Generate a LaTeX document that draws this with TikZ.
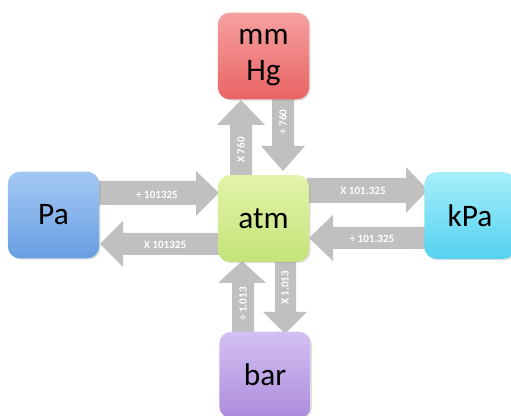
\documentclass[tikz,border=0pt]{standalone}
\usepackage{fontspec}
\setmainfont{Carlito}
\usetikzlibrary{shadows}
\definecolor{arrowgray}{HTML}{C0C0C0}
\tikzset{
  unitbox/.style={rounded corners=9pt, minimum width=68.5pt, minimum height=65pt, inner sep=0pt,
    font=\fontsize{23.5}{25}\selectfont, text=black, draw=none,
    drop shadow={shadow xshift=1pt, shadow yshift=-1pt, opacity=0.25}},
  blockarrow/.style={fill=arrowgray, draw=none},
  arrowtext/.style={text=white, font=\bfseries\fontsize{8.3}{9}\selectfont, inner sep=0pt},
}
\begin{document}
\begin{tikzpicture}[x=0.75pt, y=-0.75pt]
\useasboundingbox (0,0) rectangle (511,416);

% block arrows (drawn first, boxes on top)
% atm -> mmHg (up, left)
\fill[blockarrow] (230,178) -- (230,125) -- (217,125) -- (241,100) -- (265,125) -- (252,125) -- (252,178) -- cycle;
% mmHg -> atm (down, right)
\fill[blockarrow] (272,98) -- (272,146) -- (261,146) -- (283,171) -- (305,146) -- (294,146) -- (294,98) -- cycle;
% Pa -> atm (upper)
\fill[blockarrow] (98,181) -- (196,181) -- (196,171) -- (219,193) -- (196,216) -- (196,205) -- (98,205) -- cycle;
% atm -> Pa (lower)
\fill[blockarrow] (220,233) -- (123,233) -- (123,221) -- (100,244) -- (123,267) -- (123,255) -- (220,255) -- cycle;
% atm -> kPa (upper)
\fill[blockarrow] (307,178) -- (406,178) -- (406,167) -- (428,190) -- (406,213) -- (406,203) -- (307,203) -- cycle;
% kPa -> atm (lower)
\fill[blockarrow] (430,227) -- (333,227) -- (333,215) -- (309,238) -- (333,261) -- (333,249) -- (430,249) -- cycle;
% bar -> atm (up, left)
\fill[blockarrow] (232,337) -- (232,283) -- (218,283) -- (242,261) -- (266,283) -- (254,283) -- (254,337) -- cycle;
% atm -> bar (down, right)
\fill[blockarrow] (275,260) -- (275,312) -- (263,312) -- (285,334) -- (307,312) -- (296,312) -- (296,260) -- cycle;

% boxes
\node[unitbox, top color={rgb,255:red,246;green,160;blue,160}, bottom color={rgb,255:red,234;green,100;blue,100}] (mmhg) at (263.5,56) {\begin{tabular}{@{}c@{}}mm\\[1.5pt]Hg\end{tabular}};
\node[unitbox, top color={rgb,255:red,164;green,200;blue,244}, bottom color={rgb,255:red,104;green,158;blue,226}] (pa) at (53.5,215) {Pa};
\node[unitbox, top color={rgb,255:red,226;green,244;blue,170}, bottom color={rgb,255:red,196;green,227;blue,120}] (atm) at (263.5,218.5) {atm};
\node[unitbox, top color={rgb,255:red,166;green,238;blue,250}, bottom color={rgb,255:red,84;green,210;blue,240}] (kpa) at (470,215.5) {kPa};
\node[unitbox, top color={rgb,255:red,212;green,192;blue,242}, bottom color={rgb,255:red,172;green,140;blue,220}] (bar) at (265,375) {bar};

% arrow labels
\node[arrowtext, rotate=90] (t1) at (241,150) {X 760};
\node[arrowtext, rotate=90] (t2) at (283,122) {÷ 760};
\node[arrowtext] (t3) at (157,195) {÷ 101325};
\node[arrowtext] (t4) at (165,245) {X 101325};
\node[arrowtext] (t5) at (363,191) {X 101.325};
\node[arrowtext] (t6) at (372,239) {÷ 101.325};
\node[arrowtext, rotate=90] (t7) at (243,304) {÷ 1.013};
\node[arrowtext, rotate=90] (t8) at (285,288) {X 1.013};
\end{tikzpicture}
\end{document}
